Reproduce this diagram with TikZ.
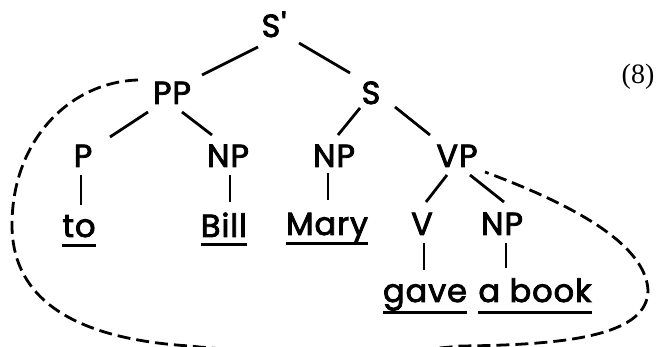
\documentclass[tikz,border=0pt]{standalone}
\usepackage{fontspec}
\newfontfamily\treefont[LetterSpace=3,FakeBold=2.6]{Poppins}
\newfontfamily\numfont{Liberation Serif}
\begin{document}
\begin{tikzpicture}[x=1pt,y=-1pt,
  lbl/.style={anchor=base,inner sep=0pt,font=\treefont\fontsize{32}{38}\selectfont},
  branch/.style={line width=2.8pt},
  uline/.style={line width=3pt},
  link/.style={line width=2.8pt,dash pattern=on 13pt off 6pt}]
\useasboundingbox (0,0) rectangle (659,347);

% category labels
\node[lbl] (sp)  at (274,37)  {S\char"0027};
\node[lbl] (pp)  at (172,104) {PP};
\node[lbl] (s)   at (371,104) {S};
\node[lbl] (p)   at (83,167)  {P};
\node[lbl] (np1) at (228,167) {NP};
\node[lbl] (np2) at (334,167) {NP};
\node[lbl] (vp)  at (457,167) {VP};
\node[lbl] (v)   at (422,235) {V};
\node[lbl] (np3) at (502,235) {NP};

% words
\node[lbl] (to)    at (79,237)  {to};
\node[lbl] (bill)  at (224,237) {Bill};
\node[lbl] (mary)  at (327,235) {Mary};
\node[lbl] (gave)  at (425,302) {gave};
\node[lbl] (abook) at (535,302) {a book};

% example number
\node[anchor=base,inner sep=0pt,font=\numfont\fontsize{28}{32}\selectfont] (num) at (638,84) {(8)};

% branches
\draw[branch] ([shift={(-16,10)}]sp.base) -- ([shift={(30,-29)}]pp.base);
\draw[branch] ([shift={(25,6)}]sp.base) -- ([shift={(-21,-31)}]s.base);
\draw[branch] ([shift={(-24,8)}]pp.base) -- ([shift={(27,-30)}]p.base);
\draw[branch] ([shift={(10,8)}]pp.base) -- ([shift={(-16,-32)}]np1.base);
\draw[branch] ([shift={(-11,4)}]s.base) -- ([shift={(4,-32)}]np2.base);
\draw[branch] ([shift={(24,3)}]s.base) -- ([shift={(-27,-32)}]vp.base);
\draw[branch] ([shift={(-2,8)}]p.base) -- ([shift={(2,-32)}]to.base);
\draw[branch] ([shift={(2,8)}]np1.base) -- ([shift={(6,-35)}]bill.base);
\draw[branch] ([shift={(-6,6)}]np2.base) -- ([shift={(1,-35)}]mary.base);
\draw[branch] ([shift={(-10,8)}]vp.base) -- ([shift={(4,-33)}]v.base);
\draw[branch] ([shift={(13,8)}]vp.base) -- ([shift={(2,-33)}]np3.base);
\draw[branch] ([shift={(2,8)}]v.base) -- ([shift={(-1,-32)}]gave.base);
\draw[branch] ([shift={(4,8)}]np3.base) -- ([shift={(-29,-34)}]abook.base);

% underlines
\draw[uline] ([yshift=-9pt]to.base west) -- ([yshift=-9pt]to.base east);
\draw[uline] ([yshift=-8pt]bill.base west) -- ([yshift=-8pt]bill.base east);
\draw[uline] ([yshift=-9pt]mary.base west) -- ([yshift=-9pt]mary.base east);
\draw[uline] ([yshift=-11pt]gave.base west) -- ([yshift=-11pt]gave.base east);
\draw[uline] ([yshift=-11pt]abook.base west) -- ([yshift=-11pt]abook.base east);

% dashed link from PP round to VP
\begin{scope}
\clip (0,0) rectangle (659,347);
\draw[link] ([shift={(-34,-24)}]pp.base)
  .. controls (70,82) and (12,140) .. (12,225)
  .. controls (12,290) and (60,338) .. (190,346)
  .. controls (260,354) and (390,354) .. (460,346)
  .. controls (570,345) and (648,335) .. (648,290)
  .. controls (645,240) and (560,200) .. ([shift={(28,5)}]vp.base);
\end{scope}
\end{tikzpicture}
\end{document}
